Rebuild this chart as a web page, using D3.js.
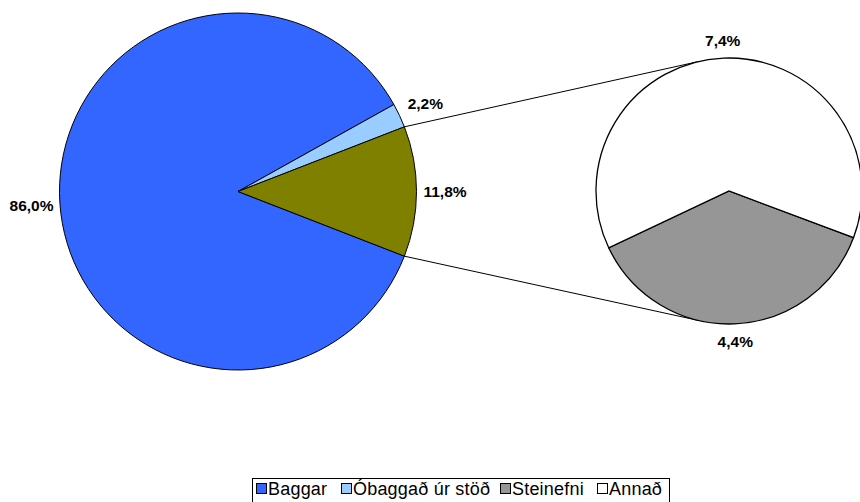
<!DOCTYPE html>
<html>
<head>
<meta charset="utf-8">
<script src="https://cdn.jsdelivr.net/npm/d3@7"></script>
<style>
  html, body { margin: 0; padding: 0; background: #fff; }
  svg { display: block; }
</style>
</head>
<body>
<svg id="chart" width="860" height="502"></svg>
<script>
// ---- Data ----
const mainCategories = ["Baggar", "Óbaggað úr stöð", "Annað samtals"];
const mainValues = [86.0, 2.2, 11.8];
const mainLabels = ["86,0%", "2,2%", "11,8%"];
const subCategories = ["Steinefni", "Annað"];
const subValues = [4.4, 7.4];
const subLabels = ["4,4%", "7,4%"];
const legendCategories = ["Baggar", "Óbaggað úr stöð", "Steinefni", "Annað"];

// ---- Styles ----
const mainColors = ["#3366FF", "#99CCFF", "#808000"];
const subColors = ["#969696", "#FFFFFF"];
const legendColors = ["#3366FF", "#99CCFF", "#969696", "#FFFFFF"];

const svg = d3.select("#chart");
const deg = Math.PI / 180;

// Main pie
const mainC = { x: 238, y: 191.5 }, mainR = 178.5;
const total = d3.sum(mainValues);
const otherShare = mainValues[2] / total;
const mainStart = Math.PI / 2 + otherShare * Math.PI;
const mainPie = d3.pie().sort(null).startAngle(mainStart).endAngle(mainStart + 2 * Math.PI);
const mainArcs = mainPie(mainValues);
const mainArc = d3.arc().innerRadius(0).outerRadius(mainR);
const gMain = svg.append("g").attr("transform", `translate(${mainC.x},${mainC.y})`);
gMain.selectAll("path").data(mainArcs).join("path")
  .attr("d", mainArc)
  .attr("fill", (d, i) => mainColors[i])
  .attr("stroke", "#000").attr("stroke-width", 1);

const mainLabelArc = d3.arc().innerRadius(207).outerRadius(207);
gMain.selectAll("text").data(mainArcs).join("text")
  .attr("transform", d => `translate(${mainLabelArc.centroid(d)})`)
  .attr("text-anchor", "middle").attr("dy", "0.35em")
  .style("font-family", "Liberation Sans, Arial, sans-serif")
  .style("font-weight", "bold").style("font-size", "15.5px")
  .text((d, i) => mainLabels[i]);

// Secondary pie
const subC = { x: 729, y: 191 }, subR = 133;
const subStart = 110.5 * deg;
const subPie = d3.pie().sort(null).startAngle(subStart).endAngle(subStart + 2 * Math.PI);
const subArcs = subPie(subValues);
const subArc = d3.arc().innerRadius(0).outerRadius(subR);

// Connector lines
const otherArc = mainArcs[2];
const p = a => [Math.sin(a), -Math.cos(a)];
const [ux, uy] = p(otherArc.startAngle), [lx, ly] = p(otherArc.endAngle);
const topA = -13 * deg, botA = 193 * deg;
const [tx, ty] = p(topA), [bx, by] = p(botA);
svg.append("line")
  .attr("x1", mainC.x + ux * mainR).attr("y1", mainC.y + uy * mainR)
  .attr("x2", subC.x + tx * subR).attr("y2", subC.y + ty * subR)
  .attr("stroke", "#000").attr("stroke-width", 1);
svg.append("line")
  .attr("x1", mainC.x + lx * mainR).attr("y1", mainC.y + ly * mainR)
  .attr("x2", subC.x + bx * subR).attr("y2", subC.y + by * subR)
  .attr("stroke", "#000").attr("stroke-width", 1);

const gSub = svg.append("g").attr("transform", `translate(${subC.x},${subC.y})`);
gSub.selectAll("path").data(subArcs).join("path")
  .attr("d", subArc)
  .attr("fill", (d, i) => subColors[i])
  .attr("stroke", "#000").attr("stroke-width", 1.3);

const subLabelArc = d3.arc().innerRadius(151).outerRadius(151);
gSub.selectAll("text").data(subArcs).join("text")
  .attr("transform", d => `translate(${subLabelArc.centroid(d)})`)
  .attr("text-anchor", "middle").attr("dy", "0.35em")
  .style("font-family", "Liberation Sans, Arial, sans-serif")
  .style("font-weight", "bold").style("font-size", "15.5px")
  .text((d, i) => subLabels[i]);

// Legend
const legend = svg.append("g");
legend.append("rect")
  .attr("x", 252.5).attr("y", 478.5).attr("width", 417).attr("height", 30)
  .attr("fill", "#fff").attr("stroke", "#000").attr("stroke-width", 1);
const legendX = [256, 341, 500, 597];
const items = legend.selectAll("g.item").data(legendCategories).join("g")
  .attr("class", "item")
  .attr("transform", (d, i) => `translate(${legendX[i]},0)`);
items.append("rect")
  .attr("x", 0.5).attr("y", 483.5).attr("width", 10).attr("height", 10)
  .attr("fill", (d, i) => legendColors[i])
  .attr("stroke", "#000").attr("stroke-width", 1);
items.append("text")
  .attr("x", 12).attr("y", 495)
  .style("font-family", "Liberation Sans, Arial, sans-serif")
  .style("font-size", "18px")
  .style("letter-spacing", "0.2px")
  .text(d => d);
</script>
</body>
</html>
